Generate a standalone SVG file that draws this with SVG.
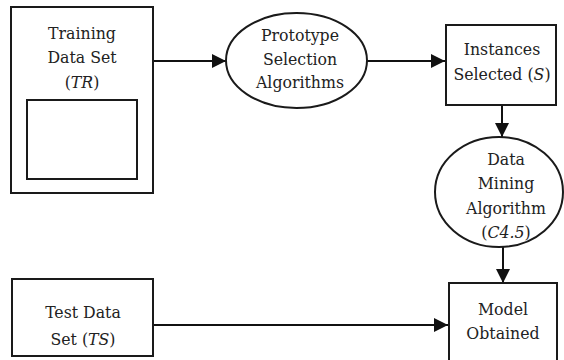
<svg xmlns="http://www.w3.org/2000/svg" width="564" height="360" viewBox="0 0 564 360">
  <style>
    .box { fill: #fff; stroke: #1a1a1a; stroke-width: 2; }
    .conn { fill: none; stroke: #111; stroke-width: 2; }
    text { font-family: 'DejaVu Serif Condensed', 'DejaVu Serif', serif; font-stretch: condensed; font-size: 17.5px; fill: #222; text-anchor: middle; }
    .it { font-style: italic; }
  </style>
  <defs>
    <marker id="arrow" viewBox="0 0 14 14" refX="14" refY="7" markerWidth="14" markerHeight="14" markerUnits="userSpaceOnUse" orient="auto">
      <path d="M0,0 L14,7 L0,14 Z" fill="#111"/>
    </marker>
  </defs>
  <rect width="564" height="360" fill="#fff"/>

  <g id="connectors">
    <line class="conn" x1="153" y1="61" x2="226" y2="61" marker-end="url(#arrow)"/>
    <line class="conn" x1="367" y1="61" x2="445" y2="61" marker-end="url(#arrow)"/>
    <line class="conn" x1="502" y1="105" x2="502" y2="137" marker-end="url(#arrow)"/>
    <line class="conn" x1="503" y1="247" x2="503" y2="283" marker-end="url(#arrow)"/>
    <line class="conn" x1="153" y1="325" x2="448" y2="325" marker-end="url(#arrow)"/>
  </g>

  <g id="training-set">
    <rect class="box" x="11" y="7" width="142" height="186"/>
    <rect class="box" x="27" y="100" width="110" height="79"/>
    <text x="82" y="39">Training</text>
    <text x="82" y="63">Data Set</text>
    <text x="82" y="88">(<tspan class="it">TR</tspan>)</text>
  </g>

  <g id="prototype-selection">
    <ellipse class="box" cx="296.5" cy="60.5" rx="70.5" ry="47.5"/>
    <text x="300" y="41">Prototype</text>
    <text x="300" y="65">Selection</text>
    <text x="300" y="88">Algorithms</text>
  </g>

  <g id="instances-selected">
    <rect class="box" x="446" y="25" width="110" height="80"/>
    <text x="502" y="55">Instances</text>
    <text x="502" y="80">Selected (<tspan class="it">S</tspan>)</text>
  </g>

  <g id="data-mining">
    <ellipse class="box" cx="499" cy="192" rx="64" ry="55"/>
    <text x="506" y="165">Data</text>
    <text x="506" y="189">Mining</text>
    <text x="506" y="214">Algorithm</text>
    <text x="506" y="238">(<tspan class="it">C4.5</tspan>)</text>
  </g>

  <g id="test-set">
    <rect class="box" x="12" y="279" width="141" height="77"/>
    <text x="83" y="318">Test Data</text>
    <text x="83" y="345">Set (<tspan class="it">TS</tspan>)</text>
  </g>

  <g id="model-obtained">
    <rect class="box" x="449" y="283" width="108" height="90"/>
    <text x="503" y="315">Model</text>
    <text x="503" y="339">Obtained</text>
  </g>
</svg>
